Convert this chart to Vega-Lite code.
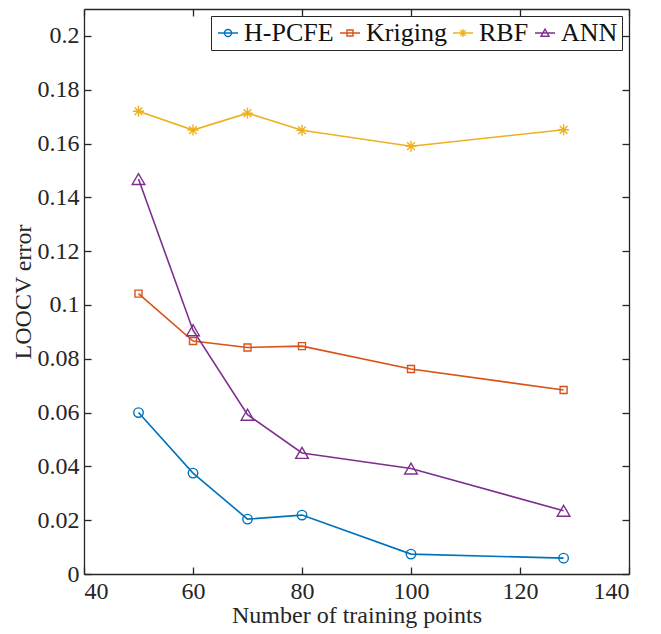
{
  "$schema": "https://vega.github.io/schema/vega-lite/v6.json",
  "autosize": {"type": "none"},
  "padding": {"left": 84, "top": 9, "right": 32, "bottom": 60},
  "width": 545,
  "height": 565,
  "background": "white",
  "config": {
    "view": {"stroke": null},
    "font": "Liberation Serif",
    "axis": {
      "grid": false,
      "domainColor": "#262626",
      "domainWidth": 1.3,
      "tickColor": "#262626",
      "tickWidth": 1.3,
      "tickSize": -7,
      "labelFont": "Liberation Serif",
      "labelFontSize": 24,
      "labelColor": "#262626",
      "titleFont": "Liberation Serif",
      "titleFontSize": 24,
      "titleFontWeight": "normal",
      "titleColor": "#262626"
    },
    "legend": {
      "title": null,
      "orient": "top-right",
      "direction": "horizontal",
      "offset": 7,
      "strokeColor": "#262626",
      "fillColor": "white",
      "padding": 4,
      "labelFont": "Liberation Serif",
      "labelFontSize": 26,
      "labelColor": "#111111",
      "columnPadding": 3,
      "symbolSize": 256,
      "symbolStrokeWidth": 1.4,
      "symbolOpacity": 1,
      "labelOffset": 3
    }
  },
  "data": {
    "values": [
      {"n": 50, "err": 0.0600, "method": "H-PCFE"},
      {"n": 60, "err": 0.0375, "method": "H-PCFE"},
      {"n": 70, "err": 0.0204, "method": "H-PCFE"},
      {"n": 80, "err": 0.0219, "method": "H-PCFE"},
      {"n": 100, "err": 0.0074, "method": "H-PCFE"},
      {"n": 128, "err": 0.0059, "method": "H-PCFE"},
      {"n": 50, "err": 0.1042, "method": "Kriging"},
      {"n": 60, "err": 0.0866, "method": "Kriging"},
      {"n": 70, "err": 0.0842, "method": "Kriging"},
      {"n": 80, "err": 0.0847, "method": "Kriging"},
      {"n": 100, "err": 0.0762, "method": "Kriging"},
      {"n": 128, "err": 0.0684, "method": "Kriging"},
      {"n": 50, "err": 0.1720, "method": "RBF"},
      {"n": 60, "err": 0.1650, "method": "RBF"},
      {"n": 70, "err": 0.1713, "method": "RBF"},
      {"n": 80, "err": 0.1649, "method": "RBF"},
      {"n": 100, "err": 0.1590, "method": "RBF"},
      {"n": 128, "err": 0.1651, "method": "RBF"},
      {"n": 50, "err": 0.1468, "method": "ANN"},
      {"n": 60, "err": 0.0906, "method": "ANN"},
      {"n": 70, "err": 0.0592, "method": "ANN"},
      {"n": 80, "err": 0.0450, "method": "ANN"},
      {"n": 100, "err": 0.0392, "method": "ANN"},
      {"n": 128, "err": 0.0235, "method": "ANN"}
    ]
  },
  "layer": [
    {
      "mark": {"type": "line", "strokeWidth": 1.6},
      "encoding": {
        "x": {"field": "n", "type": "quantitative", "scale": {"domain": [40, 140], "nice": false}, "axis": {"title": "Number of training points", "values": [40, 60, 80, 100, 120, 140], "labelPadding": 12, "titlePadding": 0}},
        "y": {"field": "err", "type": "quantitative", "scale": {"domain": [0, 0.21], "nice": false}, "axis": {"title": "LOOCV error", "values": [0, 0.02, 0.04, 0.06, 0.08, 0.1, 0.12, 0.14, 0.16, 0.18, 0.2], "format": "~g", "labelPadding": 12, "titlePadding": 2}},
        "color": {"field": "method", "type": "nominal", "scale": {"domain": ["H-PCFE", "Kriging", "RBF", "ANN"], "range": ["#0072BD", "#D95319", "#EDB120", "#7E2F8E"]}}
      }
    },
    {
      "transform": [{"filter": "datum.method === 'H-PCFE'"}],
      "mark": {"type": "point", "filled": false, "opacity": 1, "strokeWidth": 1.4, "shape": "circle", "size": 90},
      "encoding": {
        "x": {"field": "n", "type": "quantitative", "axis": null},
        "y": {"field": "err", "type": "quantitative", "axis": null},
        "color": {"field": "method", "type": "nominal"}
      }
    },
    {
      "transform": [{"filter": "datum.method === 'Kriging'"}],
      "mark": {"type": "point", "filled": false, "opacity": 1, "strokeWidth": 1.4, "shape": "square", "size": 49},
      "encoding": {
        "x": {"field": "n", "type": "quantitative", "axis": null},
        "y": {"field": "err", "type": "quantitative", "axis": null},
        "color": {"field": "method", "type": "nominal"}
      }
    },
    {
      "transform": [{"filter": "datum.method === 'RBF'"}],
      "mark": {"type": "point", "filled": false, "opacity": 1, "strokeWidth": 1.4, "shape": "M0,-1L0,1M-1,0L1,0M-0.7,-0.7L0.7,0.7M-0.7,0.7L0.7,-0.7", "size": 121},
      "encoding": {
        "x": {"field": "n", "type": "quantitative", "axis": null},
        "y": {"field": "err", "type": "quantitative", "axis": null},
        "color": {"field": "method", "type": "nominal"}
      }
    },
    {
      "transform": [{"filter": "datum.method === 'ANN'"}],
      "mark": {"type": "point", "filled": false, "opacity": 1, "strokeWidth": 1.4, "shape": "triangle-up", "size": 160},
      "encoding": {
        "x": {"field": "n", "type": "quantitative", "axis": null},
        "y": {"field": "err", "type": "quantitative", "axis": null},
        "color": {"field": "method", "type": "nominal"}
      }
    },
    {
      "transform": [{"filter": "datum.n > 1000"}],
      "mark": {"type": "point", "filled": false, "opacity": 1, "strokeWidth": 1.4},
      "encoding": {
        "x": {"field": "n", "type": "quantitative", "axis": null},
        "y": {"field": "err", "type": "quantitative", "axis": null},
        "color": {"field": "method", "type": "nominal"},
        "shape": {"field": "method", "type": "nominal", "scale": {"domain": ["H-PCFE", "Kriging", "RBF", "ANN"], "range": [
          "M-1.25,0L1.25,0M-0.44,0A0.44,0.44 0 1,0 0.44,0A0.44,0.44 0 1,0 -0.44,0",
          "M-1.25,0L1.25,0M-0.375,-0.375L0.375,-0.375L0.375,0.375L-0.375,0.375Z",
          "M-1.25,0L1.25,0M0,-0.5L0,0.5M-0.36,-0.36L0.36,0.36M-0.36,0.36L0.36,-0.36",
          "M-1.25,0L1.25,0M0,-0.48L0.5,0.4L-0.5,0.4Z"]}}
      }
    },
    {
      "mark": {"type": "line", "opacity": 0},
      "encoding": {
        "x": {"field": "n", "type": "quantitative", "axis": {"orient": "top", "labels": false, "title": null, "values": [40, 60, 80, 100, 120, 140]}},
        "y": {"field": "err", "type": "quantitative", "axis": {"orient": "right", "labels": false, "title": null, "values": [0, 0.02, 0.04, 0.06, 0.08, 0.1, 0.12, 0.14, 0.16, 0.18, 0.2]}},
        "detail": {"field": "method"}
      }
    }
  ],
  "resolve": {"axis": {"x": "independent", "y": "independent"}}
}
